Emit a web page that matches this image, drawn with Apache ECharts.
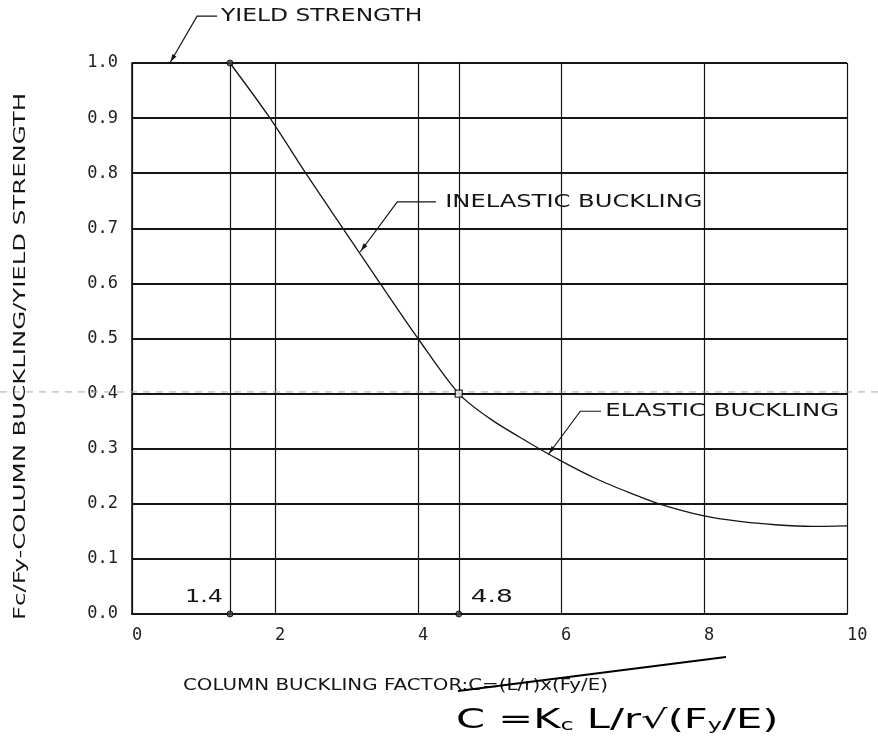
<!DOCTYPE html>
<html><head><meta charset="utf-8">
<script src="https://cdn.jsdelivr.net/npm/echarts@6/dist/echarts.min.js"></script>
<style>html,body{margin:0;padding:0;background:#fff}#c{width:878px;height:748px}</style>
</head><body><div id="c"></div><script>
// ---- data ----
const curveX = [1.37, 1.93, 2.43, 2.95, 3.47, 4.00, 4.57, 5.00, 5.50, 6.00, 6.50, 7.00, 7.37, 8.00, 8.50, 9.00, 9.50, 10.0];
const curveY = [1.00, 0.90, 0.80, 0.70, 0.60, 0.50, 0.40, 0.355, 0.315, 0.278, 0.245, 0.218, 0.200, 0.178, 0.168, 0.162, 0.159, 0.160];
const xTickValues = [0, 2, 4, 6, 8, 10];
const yTickValues = [0, 0.1, 0.2, 0.3, 0.4, 0.5, 0.6, 0.7, 0.8, 0.9, 1.0];
const refLineX = [1.37, 4.57];          // where the two reference lines are drawn
const refLineLabels = ['1.4', '4.8'];
const dotPointsX = [1.37, 1.37, 4.57];
const dotPointsY = [1.0, 0.0, 0.0];
const squarePointX = [4.57];
const squarePointY = [0.40];
const yAxisTitle = 'Fc/Fy-COLUMN BUCKLING/YIELD STRENGTH';
const xAxisTitle = 'COLUMN BUCKLING FACTOR:C=(L/r)x(Fy/E)';
// annotations: leader (tip, elbow, end) and text anchor in data units
const annTexts = ['YIELD STRENGTH', 'INELASTIC BUCKLING', 'ELASTIC BUCKLING'];
const annTip   = [[0.53, 1.0], [3.19, 0.657], [5.82, 0.289]];
const annElbow = [[0.91, 1.085], [3.71, 0.748], [6.27, 0.368]];
const annEnd   = [[1.19, 1.085], [4.25, 0.748], [6.56, 0.368]];
const annTextX = [1.245, 4.38, 6.62];
const annTextRight = [4.06, 7.98, 9.89];

const chart = echarts.init(document.getElementById('c'), null, {renderer: 'canvas'});
const ink = '#151515';
const monoFont = '"DejaVu Sans Mono", monospace';
const sansFont = '"DejaVu Sans", sans-serif';

chart.setOption({
  animation: false,
  backgroundColor: '#fff',
  grid: {left: 132, right: 31, top: 63, bottom: 134, containLabel: false},
  xAxis: {
    type: 'value', min: 0, max: 10, interval: 2,
    axisLine: {show: true, onZero: false, lineStyle: {color: ink, width: 2}},
    axisTick: {show: false},
    splitLine: {show: true, lineStyle: {color: ink, width: 1.2}},
    axisLabel: {align: 'left', margin: 13, fontFamily: monoFont, fontSize: 17, color: '#222',
      showMinLabel: true, showMaxLabel: true,
      formatter: v => xTickValues.indexOf(v) >= 0 ? String(v) : ''}
  },
  yAxis: {
    type: 'value', min: 0, max: 1, interval: 0.1,
    axisLine: {show: true, lineStyle: {color: ink, width: 1.6}},
    axisTick: {show: false},
    splitLine: {show: true, lineStyle: {color: ink, width: 2}},
    axisLabel: {margin: 14, fontFamily: monoFont, fontSize: 17, color: '#222',
      formatter: v => yTickValues.some(t => Math.abs(t - v) < 1e-9) ? v.toFixed(1) : ''}
  },
  series: [
    {
      type: 'line', data: curveX.map((x, i) => [x, curveY[i]]), smooth: 0.3,
      symbol: 'none', lineStyle: {color: ink, width: 1.3}, z: 3,
      markLine: {silent: true, symbol: 'none', label: {show: false},
        lineStyle: {type: 'solid', color: ink, width: 1.2},
        data: refLineX.map(x => ({xAxis: x}))}
    },
    {
      type: 'scatter', clip: false, data: dotPointsX.map((x, i) => [x, dotPointsY[i]]),
      symbol: 'circle', symbolSize: 6, z: 5,
      itemStyle: {color: '#444', borderColor: '#000', borderWidth: 1}
    },
    {
      type: 'scatter', clip: false, data: squarePointX.map((x, i) => [x, squarePointY[i]]),
      symbol: 'rect', symbolSize: 7, z: 5,
      itemStyle: {color: '#fff', borderColor: '#000', borderWidth: 1.3}
    }
  ]
});

const mctx = document.createElement('canvas').getContext('2d');
function fitScale(text, font, w) { mctx.font = font; return w / mctx.measureText(text).width; }
const px = p => chart.convertToPixel({gridIndex: 0}, p);

const g = [];
function textEl(text, fontSize, x, y, targetW, opts) {
  const font = fontSize + 'px ' + sansFont;
  const s = targetW ? fitScale(text, font, targetW) : 1;
  return Object.assign({
    type: 'text', x: x, y: y, scaleX: s, silent: true, z: 20,
    style: {text: text, font: font, fill: ink, align: 'left', verticalAlign: 'middle',
      textAlign: 'left', textVerticalAlign: 'middle'}
  }, opts || {});
}

// annotations with leaders and arrowheads
annTexts.forEach((t, i) => {
  const tip = px(annTip[i]), elb = px(annElbow[i]), end = px(annEnd[i]);
  g.push({type: 'polyline', silent: true, z: 20, shape: {points: [tip, elb, end]},
    style: {stroke: ink, lineWidth: 1.2, fill: null}});
  const dx = elb[0] - tip[0], dy = elb[1] - tip[1], L = Math.hypot(dx, dy);
  const ux = dx / L, uy = dy / L, len = 9, w = 2.4;
  const bx = tip[0] + ux * len, by = tip[1] + uy * len;
  g.push({type: 'polygon', silent: true, z: 21, shape: {points: [
    [tip[0] + ux * 1.5, tip[1] + uy * 1.5], [bx - uy * w, by + ux * w], [bx + uy * w, by - ux * w]]},
    style: {fill: ink}});
  const tl = px([annTextX[i], annEnd[i][1]]), tr = px([annTextRight[i], annEnd[i][1]]);
  g.push(textEl(t, 18, tl[0], tl[1], tr[0] - tl[0]));
});

// reference line labels
refLineX.forEach((x, i) => {
  const p = px([x, 0.029]);
  if (i === 0) g.push(textEl(refLineLabels[i], 17, p[0] - 45, p[1], 38));
  else g.push(textEl(refLineLabels[i], 17, p[0] + 12, p[1], 42));
});

// axis titles
g.push(textEl(yAxisTitle, 16.5, 21, 620, 527, {rotation: Math.PI / 2}));
g.push(textEl(xAxisTitle, 15, 183, 686, 425));

// handwritten correction under the x title
g.push({type: 'line', silent: true, z: 22, shape: {x1: 458, y1: 691, x2: 726, y2: 657},
  style: {stroke: '#000', lineWidth: 2}});
g.push({type: 'text', silent: true, z: 22, x: 456, y: 721, scaleX: 1.6,
  style: {text: 'C =K{s|c} L/r√(F{s|y}/E)', font: '26px ' + sansFont, fill: '#000',
    align: 'left', verticalAlign: 'middle', textAlign: 'left', textVerticalAlign: 'middle',
    rich: {s: {fontSize: 15, fontFamily: sansFont, fill: '#000', padding: [11, 0, 0, 0]}}}});

// faint scanner streak along the 0.4 line
const streakY = px([0, 0.403])[1];
g.push({type: 'line', silent: true, z: 1, shape: {x1: 0, y1: streakY, x2: 878, y2: streakY},
  style: {stroke: '#aaa', lineWidth: 1, lineDash: [7, 6]}});

chart.setOption({graphic: {elements: g}});
</script></body></html>
